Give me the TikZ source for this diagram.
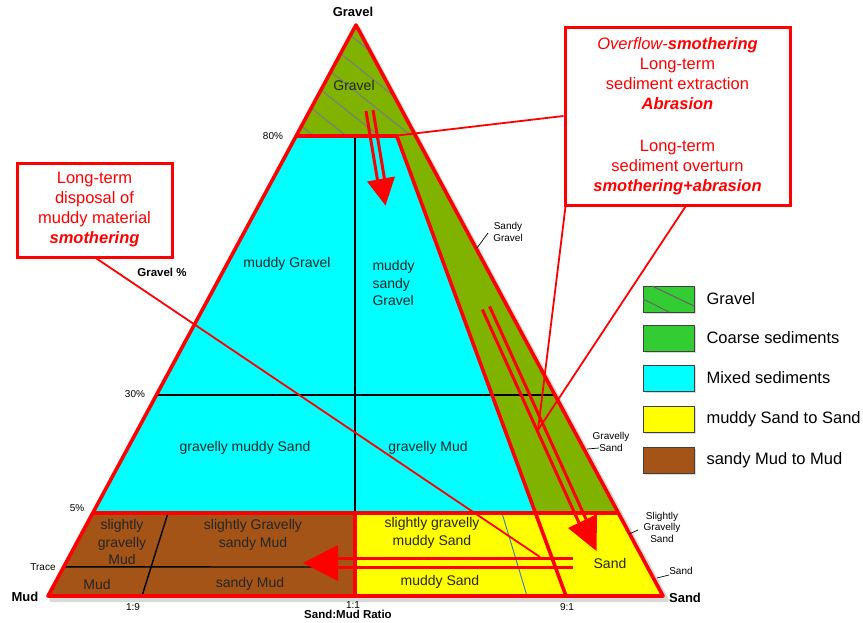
\documentclass[tikz,border=0pt]{standalone}
\usepackage{fontspec}
\setmainfont{Liberation Sans}
\usetikzlibrary{calc,shadows}

\definecolor{olivegr}{RGB}{128,178,0}
\definecolor{mixcyan}{RGB}{0,255,255}
\definecolor{sandyellow}{RGB}{255,255,0}
\definecolor{mudbrown}{RGB}{163,84,22}
\definecolor{keygreen}{RGB}{51,204,51}
\definecolor{hatchgray}{RGB}{120,130,120}
\definecolor{ratioblue}{RGB}{70,130,180}
\definecolor{rimred}{RGB}{255,0,0}

\tikzset{
  redrim/.style={rimred, line width=3.6pt, line join=round},
  blackrule/.style={black, line width=1.4pt},
  gravelhatch/.style={hatchgray, line width=1.1pt},
  twinshaft/.style={rimred, line width=3pt},
  calloutline/.style={rimred, line width=1.8pt},
  leader/.style={black, line width=0.7pt},
  region/.style={align=center, text=black!85, font=\fontsize{14}{17.5}\selectfont},
  ticklabel/.style={align=center, font=\fontsize{10}{11.5}\selectfont},
  cornerlabel/.style={font=\bfseries\fontsize{13}{15}\selectfont},
  axisname/.style={font=\bfseries\fontsize{11.5}{13}\selectfont},
  callout/.style={draw=rimred, line width=3pt, fill=white, text=rimred, align=center,
    font=\fontsize{16.5}{20}\selectfont,
    drop shadow={opacity=0.35, shadow xshift=2pt, shadow yshift=-2pt}},
  keybox/.style={draw=black!75, line width=0.8pt, minimum width=51pt, minimum height=26pt,
    drop shadow={opacity=0.3, shadow xshift=1.5pt, shadow yshift=-1.5pt}},
  keytext/.style={anchor=west, font=\fontsize{16.5}{18}\selectfont},
}

\begin{document}
\begin{tikzpicture}[x=1pt,y=-1pt]
\useasboundingbox (0,0) rectangle (863,622);
% corners of the triangle and the ratio feet
\coordinate (G) at (356,25);
\coordinate (M) at (48,596);
\coordinate (S) at (663,596);
\coordinate (N) at (566,596);
\coordinate (L80) at ($(G)!0.1944!(M)$);
\coordinate (R80) at ($(G)!0.1944!(S)$);
\coordinate (N80) at ($(G)!0.1944!(N)$);
\coordinate (L30) at ($(G)!0.648!(M)$);
\coordinate (R30) at ($(G)!0.648!(S)$);
\coordinate (L5) at ($(G)!0.8546!(M)$);
\coordinate (R5) at ($(G)!0.8546!(S)$);
\coordinate (N5) at ($(G)!0.8546!(N)$);
\coordinate (LT) at ($(G)!0.949!(M)$);

\draw[black!15, line width=4pt, line join=round] (359,29)--(51,600)--(667,600)--cycle;

% fills
\fill[olivegr] (G)--(L5)--(R5)--cycle;
\fill[mixcyan] (L80)--(N80)--(N5)--(L5)--cycle;
\fill[mudbrown] (L5)--(355,513)--(355,596)--(M)--cycle;
\fill[sandyellow] (355,513)--(R5)--(S)--(355,596)--cycle;

\begin{scope}
  \clip (G)--(L80)--(R80)--cycle;
  \foreach \c in {-45,-19,...,85}
    \draw[gravelhatch] (250,\c)--(450,{\c+160});
\end{scope}

% class boundaries
\draw[blackrule] (355,136)--(355,513);
\draw[blackrule] (L30)--(R30);
\draw[blackrule] (LT)--(355,567);
\draw[blackrule] (142,596)--(168,513);
\draw[ratioblue, line width=1pt] (502,513)--(527,596);

\draw[redrim] (G)--(M)--(S)--cycle;
\draw[redrim] (L80)--(N80)--(N);
\draw[redrim] (L5)--(R5);
\draw[redrim] (355,513)--(355,596);

% axis texts
\node[cornerlabel] (apexname) at (353,12) {Gravel};
\node[cornerlabel] (mudname) at (25,597) {Mud};
\node[cornerlabel] (sandname) at (685,598) {Sand};
\node[axisname] (gravelpct) at (162,272) {Gravel \%};
\node[axisname] (rationame) at (348,614) {Sand:Mud Ratio};
\node[ticklabel] (tick80) at (273,136) {80\%};
\node[ticklabel] (tick30) at (135,394) {30\%};
\node[ticklabel] (tick5) at (77,508) {5\%};
\node[ticklabel] (ticktrace) at (43,567) {Trace};
\node[ticklabel] (tick19) at (133,607) {1:9};
\node[ticklabel] (tick11) at (353,605) {1:1};
\node[ticklabel] (tick91) at (567,607) {9:1};

\node[ticklabel] (sgravel) at (508,232) {Sandy\\Gravel};
\draw[leader] (477,248)--(488,233);
\node[ticklabel] (gsand) at (611,442) {Gravelly\\Sand};
\draw[leader] (587,449)--(599,448);
\node[ticklabel] (sgsand) at (662,527) {Slightly\\Gravelly\\Sand};
\draw[leader] (629,534)--(638,530);
\node[ticklabel] (sandtick) at (681,571) {Sand};
\draw[leader] (657,578)--(669,575);

% class names
\node[region] (gravelcls) at (354,85) {Gravel};
\node[region] (mgravel) at (287,264) {muddy Gravel};
\node[region, align=left, anchor=west] (msgravel) at (369,283) {muddy\\sandy\\Gravel};
\node[region] (gmsand) at (245,448) {gravelly muddy Sand};
\node[region] (gmud) at (428,448) {gravelly Mud};
\node[region] (sgmud) at (122,542) {slightly\\gravelly\\Mud};
\node[region] (sgsmud) at (253,535) {slightly Gravelly\\sandy Mud};
\node[region] (mudcls) at (97,584) {Mud};
\node[region] (smud) at (250,584) {sandy Mud};
\node[region] (sgmsand) at (432,533) {slightly gravelly\\muddy Sand};
\node[region] (msand) at (440,582) {muddy Sand};
\node[region] (sandcls) at (610,563) {Sand};

% pressure arrows
\draw[twinshaft] (366,111)--(377.5,180) (373,110)--(384.5,179);
\fill[rimred] (367,181.5)--(395,176.5)--(385.5,205.5)--cycle;
\draw[twinshaft] (482.4,309.6)--(578.9,522.6) (489.6,306.4)--(586.1,519.4);
\fill[rimred] (568,528)--(597,514)--(596.5,551)--cycle;
\draw[twinshaft] (573,558)--(338,558) (573,567)--(338,567);
\fill[rimred] (338,545)--(338,581)--(303,563)--cycle;

% callouts
\coordinate (gravelpt) at (393,136);
\coordinate (bandpt) at (538,430);
\coordinate (mudpt) at (540,557);
\node[callout, minimum width=225pt, minimum height=178pt] (dredgebox) at (677.5,116)
  {\textit{Overflow-\textbf{smothering}}\\Long-term\\sediment extraction\\\textbf{\textit{Abrasion}}\\[22pt]
   Long-term\\sediment overturn\\\textbf{\textit{smothering+abrasion}}};
\node[callout, minimum width=155pt, minimum height=94pt] (dumpbox) at (94.5,210)
  {Long-term\\disposal of\\muddy material\\\textbf{\textit{smothering}}};
\draw[calloutline] (dumpbox.south) ++(2,0) -- (mudpt);
\draw[calloutline] (dredgebox.west) -- (gravelpt);
\draw[calloutline] (dredgebox.south west) ++(2,0) -- (bandpt);
\draw[calloutline] (dredgebox.south) ++(8,0) -- (bandpt);

% key
\node[keybox, fill=keygreen] (keygravel) at (668.5,299) {};
\draw[gravelhatch, black!60] (652,286)--(694,306) (643,299)--(669,312);
\node[keytext] (keygraveltxt) at (703,299) {Gravel};
\node[keybox, fill=keygreen] (keycoarse) at (668.5,338) {};
\node[keytext] (keycoarsetxt) at (703,338) {Coarse sediments};
\node[keybox, fill=mixcyan] (keymixed) at (668.5,378) {};
\node[keytext] (keymixedtxt) at (703,378) {Mixed sediments};
\node[keybox, fill=sandyellow] (keysand) at (668.5,419) {};
\node[keytext] (keysandtxt) at (703,419) {muddy Sand to Sand};
\node[keybox, fill=mudbrown] (keymud) at (668.5,460) {};
\node[keytext] (keymudtxt) at (703,460) {sandy Mud to Mud};
\end{tikzpicture}
\end{document}
